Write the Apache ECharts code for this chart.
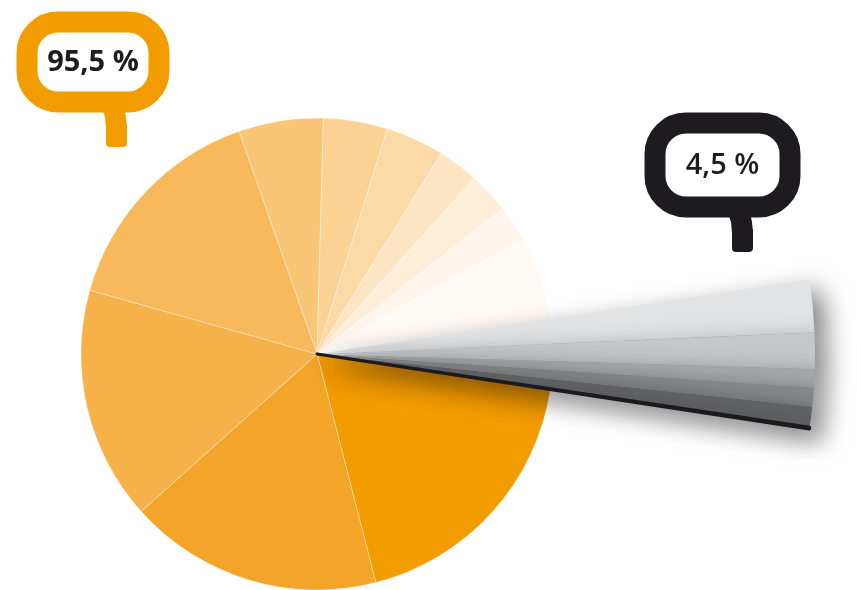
<!DOCTYPE html>
<html>
<head>
<meta charset="utf-8">
<script src="https://cdn.jsdelivr.net/npm/echarts@6/dist/echarts.min.js"></script>
<style>
  html, body { margin: 0; padding: 0; background: #fff; }
  #chart { width: 857px; height: 590px; }
</style>
</head>
<body>
<div id="chart"></div>
<script>
// clockwise from the top: light orange slices, then the grey block, then the strong orange ones
var orangeTop = [5.8, 4.4, 4.0, 2.8, 2.8, 2.5, 5.7];
var orangeBottom = [18.6, 17.4, 16.0, 15.3];
var greyValues = [1.7, 1.18, 0.59, 0.61, 0.66, 0.06];
var orangeTopColors = ['#f9c577', '#fad294', '#fcdaa6', '#fde6c4', '#feeed9', '#fff5ea', '#fffaf5'];
var orangeBottomColors = ['#f29c00', '#f3a52a', '#f6b149', '#f8b95c'];
var greyColors = ['#e2e3e4', '#c6c7c8', '#a7a8aa', '#87888a', '#636466', '#1c1a1e'];
var labelOrange = '95,5 %';
var labelGrey = '4,5 %';

var sum = function (arr) { return arr.reduce(function (a, b) { return a + b; }, 0); };

var chart = echarts.init(document.getElementById('chart'), null, {renderer: 'canvas'});

var orangeData = [];
orangeTop.forEach(function (v, i) {
    orangeData.push({value: v, itemStyle: {color: orangeTopColors[i]}});
});
orangeData.push({value: sum(greyValues), itemStyle: {color: 'rgba(0,0,0,0)', borderWidth: 0}});
orangeBottom.forEach(function (v, i) {
    orangeData.push({value: v, itemStyle: {color: orangeBottomColors[i]}});
});

var greyData = [{value: sum(orangeTop), itemStyle: {color: 'rgba(0,0,0,0)'}}];
greyValues.forEach(function (v, i) {
    var last = i === greyValues.length - 1;
    greyData.push({
        value: v,
        itemStyle: {
            color: greyColors[i],
            borderColor: last ? greyColors[i] : null,
            borderWidth: last ? 3 : 0,
            shadowBlur: 26,
            shadowOffsetX: 12,
            shadowOffsetY: 10,
            shadowColor: 'rgba(0,0,0,0.5)'
        }
    });
});
greyData.push({value: sum(orangeBottom), itemStyle: {color: 'rgba(0,0,0,0)'}});

// speech bubble: rounded frame + a bent tail like the leg of a Q
var bubble = function (x, y, w, h, color, text, weight, tx) {
    var ty = y + h - 2;
    return {
        type: 'group',
        silent: true,
        children: [
            {
                type: 'polygon',
                shape: {points: [[tx, ty], [tx + 4, ty + 8], [tx + 7, ty + 17], [tx + 8, ty + 28],
                    [tx + 29, ty + 28], [tx + 28, ty + 17], [tx + 26, ty + 8], [tx + 22, ty]]},
                style: {fill: color}
            },
            {
                type: 'rect',
                shape: {x: tx + 8, y: ty + 24, width: 21, height: 23, r: [0, 0, 4, 4]},
                style: {fill: color}
            },
            {
                type: 'rect',
                shape: {x: x, y: y, width: w, height: h, r: 31},
                style: {fill: '#fff', stroke: color, lineWidth: 21}
            },
            {
                type: 'text',
                x: x + w / 2,
                y: y + h / 2 + 1,
                style: {
                    text: text,
                    fill: '#1d1d1f',
                    font: weight + ' 29px "Open Sans", sans-serif',
                    align: 'center',
                    verticalAlign: 'middle'
                }
            }
        ]
    };
};

var option = {
    animation: false,
    graphic: [
        bubble(27, 22, 132, 80, '#f29c00', labelOrange, 'bold', 98),
        bubble(655, 123, 135, 84, '#1d1b1f', labelGrey, '600', 724)
    ],
    series: [
        {
            type: 'pie',
            silent: true,
            center: [317, 354],
            radius: [0, 236],
            startAngle: 109.3,
            label: {show: false},
            labelLine: {show: false},
            itemStyle: {borderColor: 'rgba(255,255,255,0.45)', borderWidth: 0.8},
            data: orangeData
        },
        {
            type: 'pie',
            silent: true,
            center: [317, 354],
            radius: [0, 498],
            startAngle: 109.3,
            label: {show: false},
            labelLine: {show: false},
            data: greyData
        }
    ]
};
chart.setOption(option);
</script>
</body>
</html>
